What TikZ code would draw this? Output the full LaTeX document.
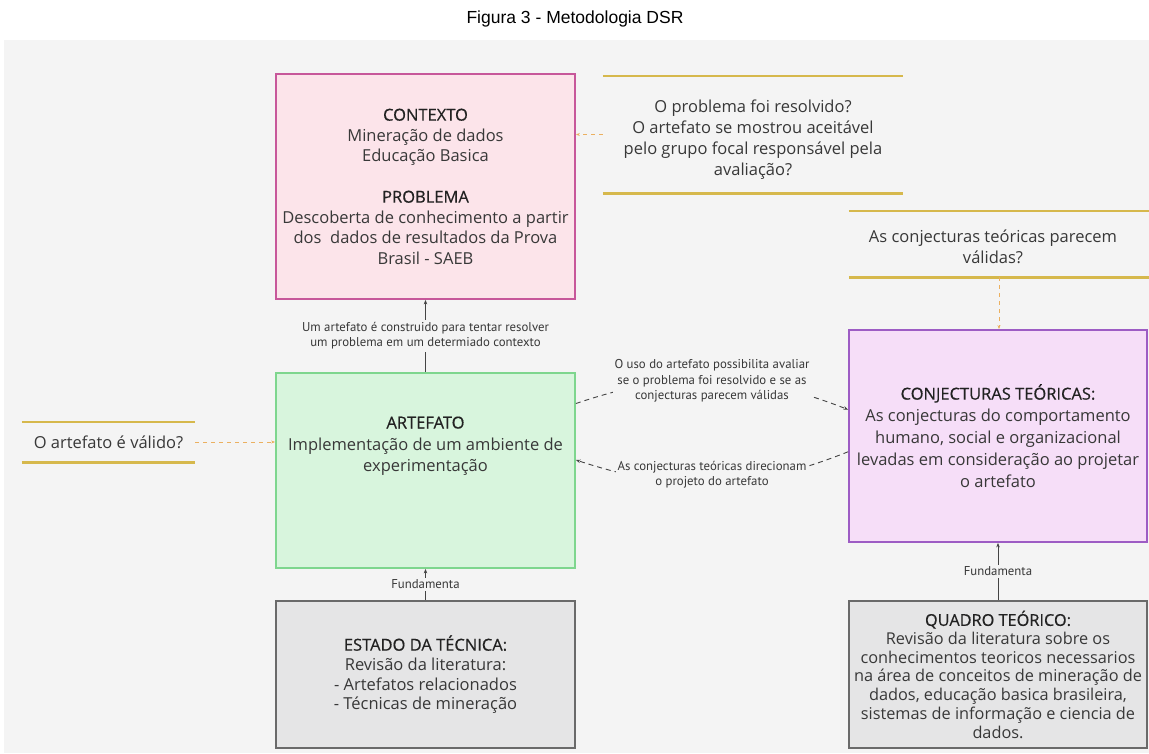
\documentclass[tikz,border=0pt]{standalone}
\usepackage{fontspec}
\setmainfont{Open Sans}
\newfontfamily\titlefont{Liberation Sans}
\newfontfamily\lblfont{PT Sans}
\newfontfamily\hdfont{Open Sans}[FakeBold=0.5]
\usetikzlibrary{arrows.meta}
\definecolor{bgc}{HTML}{F4F4F4}
\definecolor{txt}{HTML}{383838}
\definecolor{hdc}{HTML}{222222}
\definecolor{ctxf}{HTML}{FCE4EA}
\definecolor{ctxd}{HTML}{C7579A}
\definecolor{artf}{HTML}{D8F5DD}
\definecolor{artd}{HTML}{7ED68E}
\definecolor{conjf}{HTML}{F6DEF8}
\definecolor{conjd}{HTML}{9D5CC4}
\definecolor{grf}{HTML}{E5E5E6}
\definecolor{grd}{HTML}{6A6A6A}
\definecolor{gold}{HTML}{D6B84C}
\definecolor{orng}{HTML}{EBB060}
\definecolor{lin}{HTML}{444444}
\newcommand{\hd}[1]{{\hdfont\color{hdc}#1}}
\begin{document}
\begin{tikzpicture}[x=1pt,y=-1pt,
  box/.style={rectangle, line width=1.8pt, inner sep=0pt, align=center, text=txt, font=\fontsize{16.5}{20.5}\selectfont},
  ann/.style={rectangle, inner sep=0pt, align=center, text=txt, font=\fontsize{16.5}{21}\selectfont},
  goldline/.style={draw=gold, line width=2.6pt},
  odash/.style={draw=orng, line width=1pt, dash pattern=on 4pt off 4pt, -{Stealth[length=4pt,width=3pt]}},
  conn/.style={draw=lin, line width=0.9pt, -{Stealth[length=4.5pt,width=3.5pt]}},
  dconn/.style={conn, dash pattern=on 5pt off 4pt},
  lbl/.style={fill=bgc, inner sep=2pt, align=center, text=txt, font=\lblfont\fontsize{12.8}{15.3}\selectfont},
]
\useasboundingbox (0,0) rectangle (1149,753);
\fill[white] (0,0) rectangle (1149,753);
\fill[bgc] (4,40) rectangle (1149,753);
\node[font=\titlefont\fontsize{17.5}{20}\selectfont, text=black] (title) at (575,19) {Figura 3 - Metodologia DSR};

% main boxes
\node[box, draw=ctxd, fill=ctxf, minimum width=299pt, minimum height=225pt] (ctx) at (425.5,186.5)
  {\hd{CONTEXTO}\\Mineração de dados\\Educação Basica\\[20.5pt]\hd{PROBLEMA}\\Descoberta de conhecimento a partir\\dos\ \ dados de resultados da Prova\\Brasil - SAEB};
\node[box, draw=artd, fill=artf, minimum width=299pt, minimum height=195pt] (art) at (425.5,470.5) {};
\node[ann, font=\fontsize{16.5}{21.5}\selectfont] (artt) at (425.5,446) {\hd{ARTEFATO}\\Implementação de um ambiente de\\experimentação};
\node[box, draw=conjd, fill=conjf, minimum width=298pt, minimum height=212pt, font=\fontsize{16.5}{22}\selectfont] (conj) at (998,436)
  {\hd{CONJECTURAS TEÓRICAS:}\\As conjecturas do comportamento\\humano, social e organizacional\\levadas em consideração ao projetar\\o artefato};
\node[box, draw=grd, fill=grf, minimum width=299pt, minimum height=147pt, font=\fontsize{16.5}{19.7}\selectfont] (est) at (425.5,674.5)
  {\hd{ESTADO DA TÉCNICA:}\\Revisão da literatura:\\- Artefatos relacionados\\- Técnicas de mineração};
\node[box, draw=grd, fill=grf, minimum width=298pt, minimum height=147pt, font=\fontsize{16.3}{18.7}\selectfont] (quad) at (998,674.5)
  {\hd{QUADRO TEÓRICO:}\\Revisão da literatura sobre os\\conhecimentos teoricos necessarios\\na área de conceitos de mineração de\\dados, educação basica brasileira,\\sistemas de informação e ciencia de\\dados.};

% annotations
\node[minimum width=300pt, minimum height=117pt, inner sep=0pt] (q1) at (753,134.5) {};
\node[ann] (q1t) at (753,140) {O problema foi resolvido?\\O artefato se mostrou aceitável\\pelo grupo focal responsável pela\\avaliação?};
\node[minimum width=300pt, minimum height=66pt, inner sep=0pt] (q2) at (999,244) {};
\node[ann] (q2t) at (993,247) {As conjecturas teóricas parecem\\válidas?};
\node[ann, minimum width=173pt, minimum height=40pt] (q3) at (108.5,442)
  {O artefato é válido?};
\foreach \q in {q1,q2,q3}{
  \draw[goldline] (\q.north west) -- (\q.north east);
  \draw[goldline] (\q.south west) -- (\q.south east);
}

% connectors
\draw[odash] (q1.west) -- (q1.west -| ctx.east);
\draw[odash] (q2.south) -- (q2.south |- conj.north);
\draw[odash] (q3.east) -- (q3.east -| art.west);

\draw[conn] (art.north) -- node[lbl] (l0) {Um artefato é construido para tentar resolver\\um problema em um determiado contexto} (ctx.south);
\draw[conn] (est.north) -- node[lbl] (f1) {Fundamenta} (art.south);
\draw[conn] (quad.north) -- node[lbl] (f2) {Fundamenta} (conj.south);

\draw[dconn] (art.24) to[bend left=20] (conj.170);
\node[lbl] (l1) at (712,381) {O uso do artefato possibilita avaliar\\se o problema foi resolvido e se as\\conjecturas parecem válidas};
\draw[dconn] (conj.186) to[bend left=20] (art.4);
\node[lbl] (l2) at (712,475) {As conjecturas teóricas direcionam\\o projeto do artefato};
\end{tikzpicture}
\end{document}
